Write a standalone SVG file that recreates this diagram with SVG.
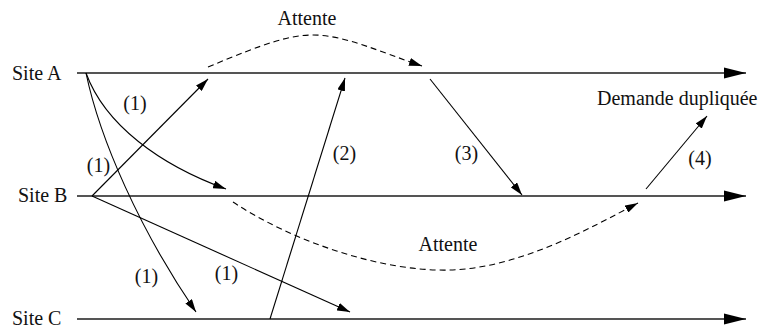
<svg xmlns="http://www.w3.org/2000/svg" width="765" height="328" viewBox="0 0 765 328">
<style>
text{font-family:"Liberation Serif","Times New Roman",serif;font-size:20px;fill:#111}
.axis{stroke:#555;stroke-width:2;fill:none}
.msg{stroke:#000;stroke-width:1.1;fill:none}
.dash{stroke:#000;stroke-width:1.1;fill:none;stroke-dasharray:6,4}
</style>
<defs>
<marker id="big" markerUnits="userSpaceOnUse" markerWidth="22" markerHeight="12" refX="22" refY="6" orient="auto" viewBox="0 0 22 12">
<path d="M0,0.5 L22,6 L0,11.5 z" fill="#000"/>
</marker>
<marker id="sm" markerUnits="userSpaceOnUse" markerWidth="13" markerHeight="8" refX="13" refY="4" orient="auto" viewBox="0 0 13 8">
<path d="M0,0 L13,4 L0,8 z" fill="#000"/>
</marker>
</defs>
<g id="siteA">
<text x="12" y="80">Site A</text>
<line class="axis" x1="77" y1="73" x2="746" y2="73" marker-end="url(#big)"/>
</g>
<g id="siteB">
<text x="18" y="202">Site B</text>
<line class="axis" x1="77" y1="196" x2="746" y2="196" marker-end="url(#big)"/>
</g>
<g id="siteC">
<text x="12" y="325">Site C</text>
<line class="axis" x1="77" y1="319" x2="746" y2="319" marker-end="url(#big)"/>
</g>
<g id="connectors">
<path class="msg" d="M86,73 C100,140 140,230 196,312" marker-end="url(#sm)"/>
<path class="msg" d="M86,73 C105,125 160,165 226,189" marker-end="url(#sm)"/>
<line class="msg" x1="92" y1="196" x2="208" y2="79" marker-end="url(#sm)"/>
<line class="msg" x1="92" y1="196" x2="350" y2="312" marker-end="url(#sm)"/>
<line class="msg" x1="270" y1="319" x2="345" y2="78" marker-end="url(#sm)"/>
<line class="msg" x1="430" y1="79" x2="522" y2="195" marker-end="url(#sm)"/>
<line class="msg" x1="646" y1="189" x2="707" y2="116" marker-end="url(#sm)"/>
<path class="dash" d="M208,67 C268,42 290,35 313,35 C345,35 380,52 422,66" marker-end="url(#sm)"/>
<path class="dash" d="M233,202 C290,240 380,272 450,270 C520,268 590,228 638,203" marker-end="url(#sm)"/>
</g>
<g id="labels">
<text x="135" y="110" text-anchor="middle">(1)</text>
<text x="98.5" y="172" text-anchor="middle">(1)</text>
<text x="146.5" y="283" text-anchor="middle">(1)</text>
<text x="226.5" y="280" text-anchor="middle">(1)</text>
<text x="344.5" y="160" text-anchor="middle">(2)</text>
<text x="466.5" y="160" text-anchor="middle">(3)</text>
<text x="700" y="165" text-anchor="middle">(4)</text>
<text x="307" y="25" text-anchor="middle">Attente</text>
<text x="448" y="251" text-anchor="middle">Attente</text>
<text x="597" y="105">Demande dupliquée</text>
</g>
</svg>
